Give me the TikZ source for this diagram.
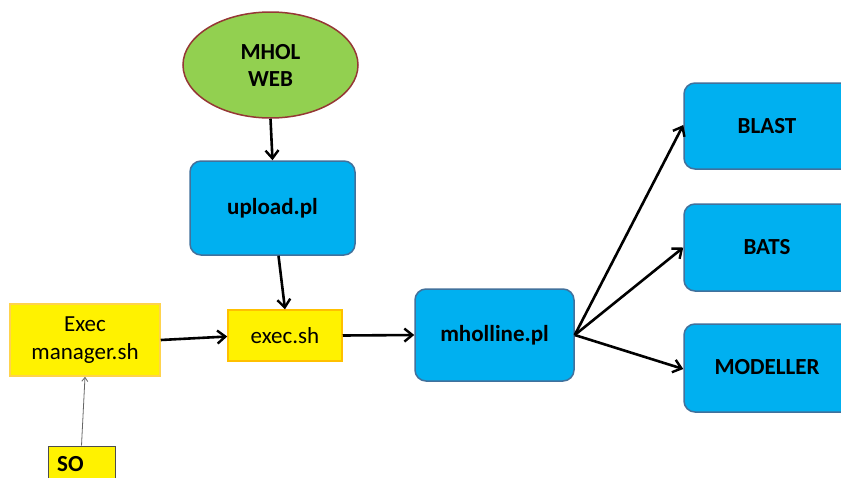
\documentclass[tikz,border=0pt]{standalone}
\usepackage{fontspec}
\setmainfont{Carlito}
\usetikzlibrary{arrows.meta,shapes.geometric}
\definecolor{webgreen}{HTML}{92D050}
\definecolor{webred}{HTML}{953735}
\definecolor{procblue}{HTML}{00B0F0}
\definecolor{procedge}{HTML}{41719C}
\definecolor{shorange}{HTML}{FFC000}
\tikzset{
  x=1pt,y=-1pt,
  proc/.style={draw=procedge, line width=1.5pt, fill=procblue, rounded corners=11pt, font=\bfseries\fontsize{23}{27}\selectfont, inner sep=0pt},
  shbox/.style={draw=shorange, line width=1.5pt, fill=yellow, font=\fontsize{23}{28}\selectfont, inner sep=0pt, align=center},
  lbl/.style={font=\bfseries\fontsize{23}{27}\selectfont, inner sep=0pt},
  flow/.style={line width=2.6pt, -{Straight Barb[length=8pt,width=13pt,line width=2.4pt]}},
}
\begin{document}
\begin{tikzpicture}
\useasboundingbox (0,0) rectangle (841,477);
\clip (0,0) rectangle (841,477);
\fill[white] (0,0) rectangle (841,477);
\node[ellipse, draw=webred, line width=1.5pt, fill=webgreen, minimum width=175pt, minimum height=106pt, inner sep=0pt, align=center, font=\bfseries\fontsize{23}{27}\selectfont] (web) at (270.5,65) {MHOL\\WEB};
\node[proc, minimum width=165pt, minimum height=94pt] (upload) at (272.5,208) {upload.pl};
\node[shbox, minimum width=114pt, minimum height=51pt] (exec) at (285,335.5) {exec.sh};
\node[shbox, draw=shorange!70, minimum width=150pt, minimum height=72pt] (mgr) at (85,340) {Exec\\manager.sh};
\node[draw=black!70, line width=1pt, fill=yellow, minimum width=67pt, minimum height=40pt, inner sep=0pt] (so) at (81.5,466) {};
\node[lbl, anchor=west] (sotext) at (57,464) {SO};
\node[proc, minimum width=159pt, minimum height=92pt] (mhol) at (494.5,335) {mholline.pl};
\node[proc, minimum width=175pt, minimum height=86pt] (blast) at (771.5,126) {};
\node[proc, minimum width=175pt, minimum height=87pt] (bats) at (771.5,247.5) {};
\node[proc, minimum width=175pt, minimum height=88pt] (modeller) at (771.5,368) {};
\node[lbl] (blastt) at (767,126) {BLAST};
\node[lbl] (batst) at (767,247) {BATS};
\node[lbl] (modellert) at (767,367) {MODELLER};
\draw[flow] (web.south) -- (upload.north);
\draw[flow] ([xshift=6pt]upload.south) -- (exec.north);
\draw[flow] (mgr.east) -- ([yshift=-1pt]exec.west);
\draw[flow] (exec.east) -- (mhol.west);
\draw[flow] (mhol.east) -- ([yshift=1pt]blast.west);
\draw[flow] (mhol.east) -- (bats.west);
\draw[flow] (mhol.east) -- ([yshift=-1pt]modeller.west);
\draw[line width=0.8pt, draw=black!60, -{Straight Barb[length=4pt,width=6pt]}] (so.north) -- (mgr.south);
\end{tikzpicture}
\end{document}
